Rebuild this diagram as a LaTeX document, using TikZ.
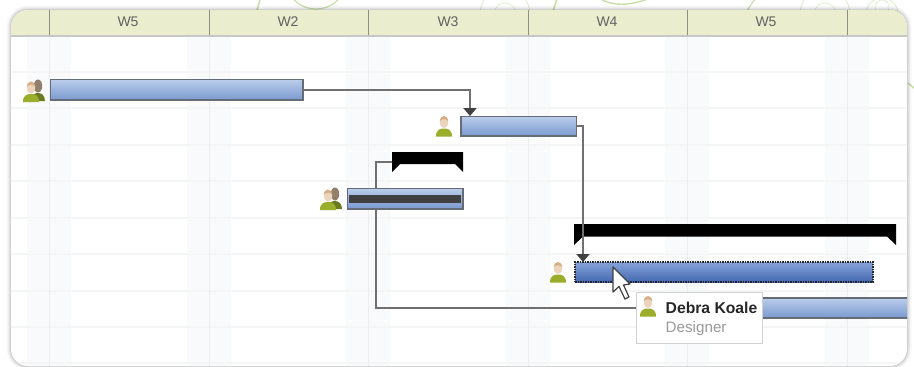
\documentclass[tikz,border=0pt]{standalone}
\usepackage{fontspec}
\setmainfont{Liberation Sans}
\usetikzlibrary{arrows.meta}
\definecolor{hdr}{HTML}{EBEDCF}
\definecolor{hdrline}{HTML}{8F8F8A}
\definecolor{grid}{HTML}{F4F5F5}
\definecolor{band}{HTML}{F9FAFB}
\definecolor{vline}{HTML}{ECEDEF}
\definecolor{swirl}{HTML}{C9DFA8}
\definecolor{conn}{HTML}{707070}
\definecolor{edge}{HTML}{666C75}
\definecolor{barhi}{HTML}{BACDEA}
\definecolor{barlo}{HTML}{7A99CF}
\definecolor{activehi}{HTML}{86A3D8}
\definecolor{activelo}{HTML}{4469B2}
\definecolor{skin}{HTML}{EBD3BC}
\definecolor{body}{HTML}{9BAE2C}
\tikzset{
  x=1pt,y=-1pt,
  taskbar/.style={draw=edge,line width=1.5pt,top color=barhi,bottom color=barlo,inner sep=0pt,outer sep=0pt,anchor=north west},
  activebar/.style={draw=black!85,densely dotted,line width=1.5pt,top color=activehi,bottom color=activelo,inner sep=0pt,outer sep=0pt,anchor=north west},
  link/.style={draw=conn,line width=2pt},
  linkarrow/.style={link,-{Triangle[length=8pt,width=13pt,fill=black!75,color=black!75]}},
  week/.style={font=\fontsize{14}{15}\selectfont,text=black!62,anchor=center},
  blackbracket/.style={fill=black},
  person/.pic={
    \fill[body] (-8,10.5) .. controls (-8,3) and (-3,2.5) .. (0,2.5) .. controls (3,2.5) and (8,3) .. (8,10.5) -- cycle;
    \fill[skin] (0,-4) ellipse (4.2 and 6);
    \fill[brown!65!white] (-4.2,-5) .. controls (-3,-11.5) and (3,-11.5) .. (4.2,-5) .. controls (1,-7.5) and (-1,-7.5) .. (-4.2,-5) -- cycle;
  },
  people/.pic={
    \fill[body!70!black] (-1,10) .. controls (-1,3) and (2,2) .. (5,2) .. controls (8,2) and (12,4) .. (12,10) -- cycle;
    \fill[gray!70!brown] (5,-5) ellipse (4.2 and 6.5);
    \pic at (-2,0.5) {person};
  },
}
\begin{document}
\begin{tikzpicture}
\useasboundingbox (0,0) rectangle (914,367);
\fill[white] (0,0) rectangle (914,367);
% background swirls
\begin{scope}
\clip (0,0) rectangle (914,12);
\draw[swirl,line width=1.2pt] (316,-22) circle (31);
\draw[swirl,line width=1.6pt] (262,-8) -- (256,14);
\draw[swirl,line width=1.6pt] (560,-10) -- (552,14);
\draw[swirl,line width=1.4pt] (592,-8) .. controls (605,6) and (625,8) .. (650,-2);
\draw[swirl,line width=1.2pt] (745,14) .. controls (750,6) and (752,3) .. (756,-2);
\draw[swirl!60!white,line width=.8pt] (505,14) circle (25);
\draw[swirl!60!white,line width=.6pt] (505,14) circle (11);
\draw[swirl!60!white,line width=.8pt] (825,14) circle (25);
\draw[swirl!60!white,line width=.6pt] (825,14) circle (11);
\draw[swirl!60!white,line width=.8pt] (882,14) circle (16);
\draw[swirl!60!white,line width=.6pt] (882,7) circle (7);
\end{scope}
\draw[swirl,line width=1.6pt] (908,83) -- (914,88);
% panel shadow
\foreach \w/\o in {9/.025,7/.03,5/.04,3/.05,1.5/.07}
  \draw[black,opacity=\o,line width=\w pt,rounded corners=17pt] (11,10) rectangle (907,366);
\fill[white,rounded corners=17pt] (11,10) rectangle (907,366);
\begin{scope}
\clip[rounded corners=17pt] (11,10) rectangle (907,366);
\foreach \v in {49,209,368,528,687,847}
  \fill[band] (\v-22,36) rectangle (\v+22,367);
\foreach \h in {72,108,145,181,218,254,291,327,363}
  \draw[grid,line width=1.2pt] (11,\h) -- (907,\h);
\foreach \v in {49,209,368,528,687,847}
  \draw[vline,line width=.9pt] (\v,36) -- (\v,367);
\fill[hdr] (11,10) rectangle (907,35);
\draw[hdrline!50!white,line width=1.4pt] (11,36) -- (907,36);
\foreach \v in {49,209,368,528,687,847}
  \draw[hdrline,line width=.9pt] (\v,10) -- (\v,35);
\end{scope}
\node[week] (w1) at (128,22) {W5};
\node[week] (w2) at (288,22) {W2};
\node[week] (w3) at (448,22) {W3};
\node[week] (w4) at (607,22) {W4};
\node[week] (w5) at (766,22) {W5};
% connector from the black bracket, behind the bars
\coordinate (branch) at (392,162);
\coordinate (pend) at (650,308);
\draw[link] (branch) -- (376,162) -- (376,308) -- (pend);
% bars
\node[taskbar,minimum width=252.5pt,minimum height=20.5pt] (b1) at (50.5,79.5) {};
\node[taskbar,minimum width=115.5pt,minimum height=19.5pt] (b2) at (461,116.5) {};
\node[taskbar,minimum width=115.5pt,minimum height=20.5pt] (b3) at (347.5,188.5) {};
\node[fill=black!75,inner sep=0pt,minimum width=112pt,minimum height=8pt,anchor=north west] (b3in) at (348.5,195) {};
\node[activebar,minimum width=298pt,minimum height=20pt] (b4) at (575,262) {};
\begin{scope}
\clip (700,290) rectangle (907,325);
\node[taskbar,minimum width=200pt,minimum height=20pt] (b5) at (740,298) {};
\end{scope}
% black brackets
\fill[blackbracket] (392,152) -- (463,152) -- (463,172) -- (455,164) -- (400,164) -- (392,172) -- cycle;
\fill[blackbracket] (574,224) -- (896,224) -- (896,245) -- (887,236.5) -- (583,236.5) -- (574,245) -- cycle;
% connectors
\coordinate (t2) at (470,116);
\coordinate (t4) at (583,262);
\draw[linkarrow] (b1.east) -| (t2);
\draw[linkarrow] (b2.east) -| (t4);
% people
\pic at (33,91) {people};
\pic at (444,126) {person};
\pic at (330,199) {people};
\pic at (558,272) {person};
% tooltip
\node[draw=black!18,fill=white,line width=1.3pt,minimum width=126pt,minimum height=51pt,inner sep=0pt,anchor=north west] (tip) at (636,292) {};
\pic at (648,306) {person};
\node[font=\bfseries\fontsize{15.7}{16}\selectfont,text=black!85,anchor=west,inner sep=0pt] (name) at (665.5,307.5) {Debra Koale};
\node[font=\fontsize{15.2}{16}\selectfont,text=black!40,anchor=west,inner sep=0pt] (role) at (665.5,328.5) {Designer};
% cursor
\fill[white,draw=black!75,line width=1.2pt,line join=round] (613,267) -- (613,292) -- (619,286.5) -- (625,299) -- (629,297) -- (623.5,285) -- (630,284) -- cycle;
\end{tikzpicture}
\end{document}
